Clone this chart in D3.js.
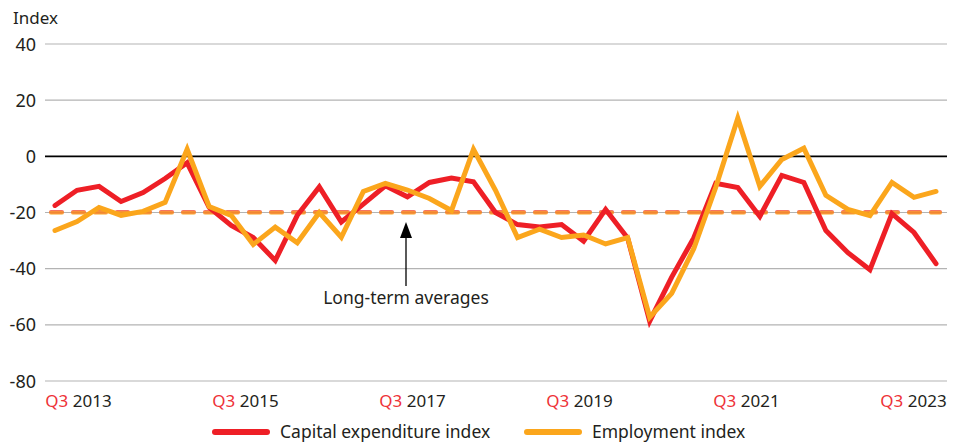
<!DOCTYPE html>
<html>
<head>
<meta charset="utf-8">
<script src="https://cdnjs.cloudflare.com/ajax/libs/d3/7.8.5/d3.min.js"></script>
<style>
  body { margin: 0; background: #fff; }
  svg text { font-family: "Noto Sans", "Open Sans", sans-serif; }
</style>
</head>
<body>
<div id="chart"></div>
<script>
var width = 965;
var height = 443;

// quarterly, Q3 2013 .. Q3 2023
var capex = [-17.5, -12.1, -10.7, -16.1, -12.9, -7.9, -2.3, -18.2, -24.6, -28.9,
             -37.1, -21, -10.9, -23.4, -17, -10.5, -14.4, -9.3, -7.7, -9.1,
             -20, -24.3, -25.2, -24.3, -30.2, -18.9, -29.1, -58.7, -43, -29.1,
             -9.6, -11.1, -21.4, -6.8, -9.3, -26.4, -34.3, -40.4, -20.4, -27.1,
             -38.2];
var employment = [-26.4, -23.2, -18.2, -21, -19.6, -16.4, 2.5, -17.9, -21, -31.4,
                  -25.2, -30.8, -20, -28.8, -12.5, -9.6, -12, -15, -19.3, 2.5,
                  -12.1, -28.9, -25.9, -28.9, -28, -31.2, -28.9, -57.3, -48.8, -32.9,
                  -11, 13.6, -10.7, -1.1, 2.9, -13.9, -18.9, -21.1, -9.3, -14.6,
                  -12.5];
var capexAvg = -19.8;
var employmentAvg = -20.1;
var yTicks = [40, 20, 0, -20, -40, -60, -80];
var xLabels = ["2013", "2015", "2017", "2019", "2021", "2023"];
var seriesNames = ["Capital expenditure index", "Employment index"];

var red = "#ee1f26";
var orange = "#fba61c";

var svg = d3.select("#chart")
    .append("svg")
    .attr("width", width)
    .attr("height", height);

var x = d3.scaleLinear().domain([0, capex.length - 1]).range([55, 936]);
var y = d3.scaleLinear().domain([-80, 40]).range([381, 44]);
var labelScale = d3.scalePoint().domain(xLabels).range([78.5, 913.5]);

// gridlines
svg.selectAll(".grid")
    .data(yTicks)
    .enter().append("line")
    .attr("x1", 45)
    .attr("x2", 947)
    .attr("y1", function(d) { return y(d); })
    .attr("y2", function(d) { return y(d); })
    .style("stroke", function(d) { return d == 0 ? "#000" : "#b3b3b3"; })
    .style("stroke-width", function(d) { return d == 0 ? 1.6 : 1.2; });

svg.selectAll(".ytick")
    .data(yTicks)
    .enter().append("text")
    .attr("x", 36)
    .attr("y", function(d) { return y(d) + 6.5; })
    .text(function(d) { return d; })
    .style("text-anchor", "end")
    .style("font-size", "18px")
    .style("fill", "#231f20");

svg.append("text")
    .attr("x", 13)
    .attr("y", 24)
    .text("Index")
    .style("font-size", "17px")
    .style("fill", "#231f20");

// x labels
var xl = svg.selectAll(".xlabel")
    .data(xLabels)
    .enter().append("text")
    .attr("x", function(d) { return labelScale(d); })
    .attr("y", 407)
    .style("text-anchor", "middle")
    .style("font-size", "17px");
xl.append("tspan").text("Q3").style("fill", "#ee3338");
xl.append("tspan").text(function(d) { return " " + d; }).style("fill", "#231f20");

// long-term averages
[[capexAvg, red], [employmentAvg, orange]].forEach(function(a) {
    svg.append("line")
        .attr("x1", x(0) - 4)
        .attr("x2", x(capex.length - 1) + 4)
        .attr("y1", y(a[0]))
        .attr("y2", y(a[0]))
        .style("stroke", a[1])
        .style("stroke-width", 4)
        .style("stroke-dasharray", "11 11")
        .style("stroke-linecap", "round")
        .style("opacity", 0.65);
});

var line = d3.line()
    .x(function(d, i) { return x(i); })
    .y(function(d) { return y(d); });

svg.append("path")
    .datum(capex)
    .attr("d", line)
    .style("fill", "none")
    .style("stroke", red)
    .style("stroke-width", 5)
    .style("stroke-linecap", "round");

svg.append("path")
    .datum(employment)
    .attr("d", line)
    .style("fill", "none")
    .style("stroke", orange)
    .style("stroke-width", 5)
    .style("stroke-linecap", "round");

// annotation arrow
svg.append("line")
    .attr("x1", 406)
    .attr("x2", 406)
    .attr("y1", 236)
    .attr("y2", 286)
    .style("stroke", "#000")
    .style("stroke-width", 1.3);

svg.append("path")
    .attr("d", "M406,222 L400,238 L412,238 Z")
    .style("fill", "#000");

svg.append("text")
    .attr("x", 406)
    .attr("y", 304)
    .text("Long-term averages")
    .style("text-anchor", "middle")
    .style("font-size", "17.5px")
    .style("fill", "#231f20");

// legend
var legend = svg.selectAll(".legend")
    .data(seriesNames)
    .enter().append("g")
    .attr("transform", function(d, i) { return "translate(" + [i == 0 ? 215 : 527, 432] + ")"; });

legend.append("line")
    .attr("x1", 0)
    .attr("x2", 52)
    .style("stroke", function(d, i) { return i == 0 ? red : orange; })
    .style("stroke-width", 6)
    .style("stroke-linecap", "round");

legend.append("text")
    .attr("x", 65)
    .attr("y", 6)
    .text(function(d) { return d; })
    .style("font-size", "17.5px")
    .style("fill", "#231f20");
</script>
</body>
</html>
